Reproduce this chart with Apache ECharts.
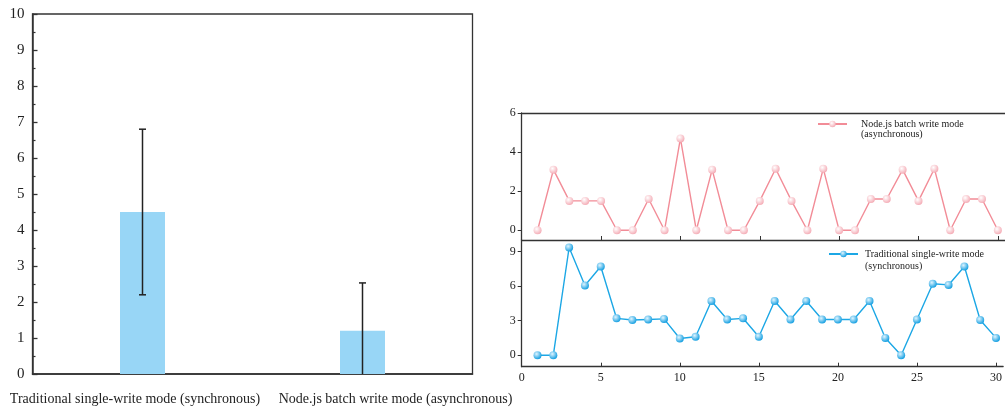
<!DOCTYPE html>
<html>
<head>
<meta charset="utf-8">
<script src="https://cdn.jsdelivr.net/npm/echarts@6/dist/echarts.min.js"></script>
<style>html,body{margin:0;padding:0;background:#fff}#c{width:1005px;height:407px}</style>
</head>
<body>
<div id="c"></div>
<script>
// ---- data ----
const barCategories = ['Traditional single-write mode (synchronous)', 'Node.js batch write mode (asynchronous)'];
const barMeans = [4.5, 1.2];
const errLow = [2.2, -0.13];
const errHigh = [6.8, 2.53];
const barYTicks = [0,1,2,3,4,5,6,7,8,9,10];

const runIndex = [1,2,3,4,5,6,7,8,9,10,11,12,13,14,15,16,17,18,19,20,21,22,23,24,25,26,27,28,29,30];
const runTicks = [0,5,10,15,20,25,30];
const asyncName = 'Node.js batch write mode\n(asynchronous)';
const asyncValues = [0,3.1,1.5,1.5,1.5,0,0,1.6,0,4.7,0,3.1,0,0,1.5,3.15,1.5,0,3.15,0,0,1.6,1.6,3.1,1.5,3.15,0,1.6,1.6,0];
const syncName = 'Traditional single-write mode\n(synchronous)';
const syncValues = [0,0,9.35,6.05,7.7,3.2,3.05,3.1,3.15,1.45,1.6,4.7,3.1,3.2,1.6,4.7,3.1,4.7,3.1,3.1,3.1,4.7,1.5,0,3.1,6.2,6.1,7.7,3.05,1.5];
const asyncYTicks = [0,2,4,6];
const syncYTicks = [0,3,6,9];

// ---- chart ----
const FONT = "'Liberation Serif','Times New Roman',serif";
const AX = '#333';
const XMAX = 30.45;
const chart = echarts.init(document.getElementById('c'), null, {renderer:'canvas'});

function ball(c0, c1){
  return {type:'radial', x:0.38, y:0.35, r:0.7, colorStops:[{offset:0,color:c0},{offset:1,color:c1}]};
}

const option = {
  animation:false,
  textStyle:{fontFamily:FONT},
  grid:[
    {left:32.5, top:14, width:440, height:360, show:true, borderColor:AX, borderWidth:1.3, backgroundColor:'transparent'},
    {left:521.7, top:113, right:0, height:127, show:false},
    {left:521.7, top:240, right:0, height:126.7, show:false}
  ],
  legend:[
    {data:[asyncName], left:817, top:109, padding:0, itemWidth:29, itemHeight:8, itemGap:0,
     formatter:n=>'\n'+n,
     textStyle:{fontFamily:FONT, fontSize:10, color:'#222', lineHeight:10, padding:[0,0,0,9]}},
    {data:[syncName], left:828, top:236, padding:0, itemWidth:29, itemHeight:8, itemGap:0,
     formatter:n=>'\n'+n,
     textStyle:{fontFamily:FONT, fontSize:10, color:'#222', lineHeight:12, padding:[0,0,0,2]}}
  ],
  xAxis:[
    {gridIndex:0, type:'category', data:barCategories,
     axisLine:{lineStyle:{color:AX, width:1.5}},
     axisTick:{inside:true, alignWithLabel:true, length:5, lineStyle:{color:AX, width:1.3}},
     axisLabel:{fontFamily:FONT, fontSize:14, color:'#222', margin:18, interval:0, hideOverlap:false,
       formatter:(v,i)=> i===0 ? '{a|'+v+'}' : '{b|'+v+'}',
       rich:{a:{fontFamily:FONT, fontSize:14, color:'#222', padding:[0,15,0,0]},
             b:{fontFamily:FONT, fontSize:14, color:'#222', padding:[0,0,0,66]}}},
     splitLine:{show:false}},
    {gridIndex:1, type:'value', min:0, max:XMAX, position:'bottom',
     axisLine:{onZero:false, lineStyle:{color:AX, width:1.3}},
     axisTick:{inside:true, length:4, customValues:runTicks, lineStyle:{color:AX}},
     axisLabel:{show:false}, splitLine:{show:false}},
    {gridIndex:2, type:'value', min:0, max:XMAX, position:'bottom',
     axisLine:{onZero:false, lineStyle:{color:AX, width:1.3}},
     axisTick:{inside:true, length:4, customValues:runTicks, lineStyle:{color:AX}},
     axisLabel:{fontFamily:FONT, fontSize:12, color:'#222', margin:5, customValues:runTicks},
     splitLine:{show:false}},
    {gridIndex:1, type:'value', position:'top', min:0, max:XMAX,
     axisLine:{show:true, onZero:false, lineStyle:{color:AX, width:1.3}},
     axisTick:{show:false}, axisLabel:{show:false}, splitLine:{show:false}}
  ],
  yAxis:[
    {gridIndex:0, type:'value', min:0, max:10, interval:1,
     axisLine:{show:true, lineStyle:{color:AX, width:1.5}},
     axisTick:{show:true, inside:true, length:5, lineStyle:{color:AX, width:1.3}},
     minorTick:{show:true, splitNumber:2, length:3, lineStyle:{color:AX, width:1.2}},
     axisLabel:{fontFamily:FONT, fontSize:15, color:'#222', margin:8,
       customValues:barYTicks},
     splitLine:{show:false}},
    {gridIndex:1, type:'value', min:-0.5, max:6,
     axisLine:{show:true, onZero:false, lineStyle:{color:AX, width:1.3}},
     axisTick:{show:true, inside:false, length:4, customValues:asyncYTicks, lineStyle:{color:AX}},
     axisLabel:{fontFamily:FONT, fontSize:12, color:'#222', margin:6, customValues:asyncYTicks},
     splitLine:{show:false}},
    {gridIndex:2, type:'value', min:-1, max:10,
     axisLine:{show:true, onZero:false, lineStyle:{color:AX, width:1.3}},
     axisTick:{show:true, inside:false, length:4, customValues:syncYTicks, lineStyle:{color:AX}},
     axisLabel:{fontFamily:FONT, fontSize:12, color:'#222', margin:6, customValues:syncYTicks},
     splitLine:{show:false}}
  ],
  series:[
    {type:'bar', xAxisIndex:0, yAxisIndex:0, data:barMeans, barWidth:45,
     itemStyle:{color:'#98d6f6'}},
    {type:'custom', xAxisIndex:0, yAxisIndex:0, clip:true,
     data:barCategories.map((c,i)=>[i, errLow[i], errHigh[i]]),
     renderItem:function(params, api){
       const lo = api.coord([api.value(0), api.value(1)]);
       const hi = api.coord([api.value(0), api.value(2)]);
       const hw = 3.5;
       const st = {stroke:'#222', lineWidth:1.5};
       return {type:'group', children:[
         {type:'line', shape:{x1:hi[0], y1:hi[1], x2:lo[0], y2:lo[1]}, style:st},
         {type:'line', shape:{x1:hi[0]-hw, y1:hi[1], x2:hi[0]+hw, y2:hi[1]}, style:st},
         {type:'line', shape:{x1:lo[0]-hw, y1:lo[1], x2:lo[0]+hw, y2:lo[1]}, style:st}
       ]};
     }, z:5},
    {name:asyncName, type:'line', xAxisIndex:1, yAxisIndex:1,
     data:runIndex.map((x,i)=>[x, asyncValues[i]]),
     symbol:'circle', symbolSize:8,
     lineStyle:{color:'#f28c97', width:1.4},
     itemStyle:{color:ball('#ffffff','#f4a9b3'), borderWidth:0}},
    {name:syncName, type:'line', xAxisIndex:2, yAxisIndex:2,
     data:runIndex.map((x,i)=>[x, syncValues[i]]),
     symbol:'circle', symbolSize:8,
     lineStyle:{color:'#1ca7e5', width:1.4},
     itemStyle:{color:ball('#dff4ff','#0a9be0'), borderWidth:0}}
  ]
};
chart.setOption(option);
</script>
</body>
</html>
